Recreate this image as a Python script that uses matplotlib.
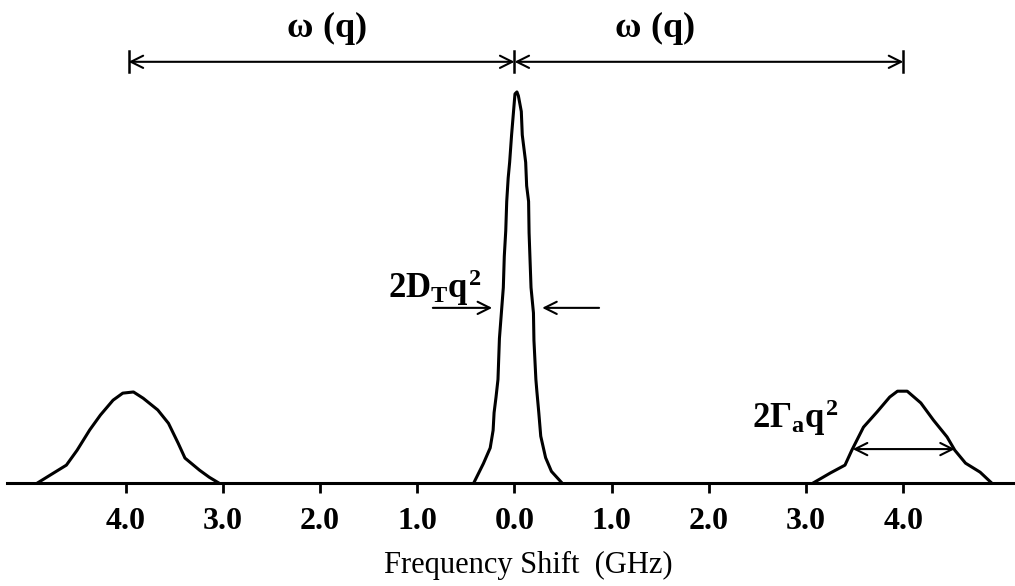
"""
Brillouin spectrum sketch: Rayleigh line with two Brillouin side peaks
"""
import matplotlib.pyplot as plt

plt.rcParams['font.family'] = ['Liberation Serif', 'DejaVu Serif']
plt.rcParams['mathtext.fontset'] = 'custom'
plt.rcParams['mathtext.rm'] = 'Liberation Serif:bold'
plt.rcParams['mathtext.it'] = 'Liberation Serif:bold'
plt.rcParams['mathtext.bf'] = 'Liberation Serif:bold'

INK = 'black'

# traced line shapes (GHz, intensity relative to the central peak)
central_x = [-0.42, -0.32, -0.25, -0.22, -0.21, -0.19, -0.17, -0.155, -0.135, -0.115,
             -0.105, -0.09, -0.08, -0.065, -0.05, -0.03, -0.01, 0.005, 0.025, 0.04,
             0.07, 0.08, 0.115, 0.125, 0.145, 0.15, 0.17, 0.195, 0.2, 0.22,
             0.23, 0.25, 0.27, 0.32, 0.38, 0.49]
central_y = [0.0, 0.05, 0.09, 0.135, 0.18, 0.22, 0.265, 0.37, 0.435, 0.5,
             0.58, 0.645, 0.72, 0.78, 0.82, 0.89, 0.95, 0.995, 1.0, 0.99,
             0.95, 0.89, 0.82, 0.76, 0.72, 0.64, 0.5, 0.435, 0.365, 0.265,
             0.235, 0.18, 0.12, 0.065, 0.03, 0.0]

left_x = [-4.91, -4.78, -4.61, -4.50, -4.37, -4.26, -4.13, -4.03, -3.92, -3.82,
          -3.67, -3.56, -3.46, -3.39, -3.24, -3.14, -3.04]
left_y = [0.0, 0.02, 0.046, 0.084, 0.136, 0.174, 0.212, 0.23, 0.233, 0.217,
          0.187, 0.153, 0.102, 0.064, 0.033, 0.015, 0.0]

right_x = [3.07, 3.25, 3.40, 3.47, 3.59, 3.73, 3.86, 3.94, 4.04, 4.18,
           4.31, 4.45, 4.53, 4.64, 4.79, 4.91]
right_y = [0.0, 0.026, 0.046, 0.084, 0.143, 0.182, 0.22, 0.235, 0.235, 0.205,
           0.161, 0.118, 0.084, 0.051, 0.028, 0.0]

tick_pos = [-4.0, -3.0, -2.0, -1.0, 0.0, 1.0, 2.0, 3.0, 4.0]
tick_labels = ['4.0', '3.0', '2.0', '1.0', '0.0', '1.0', '2.0', '3.0', '4.0']

# annotation anchors
omega_marks = [-3.97, 0.0, 4.0]
omega_level = 1.077
dt_left = (-0.84, -0.23)
dt_right = (0.87, 0.285)
dt_level = 0.448
gamma_span = (3.48, 4.53)
gamma_level = 0.087

fig = plt.figure(figsize=(10.15, 5.86), dpi=100)
ax = fig.add_axes([0, 0, 1, 1])
ax.set_xlim(-5.293, 5.149)
ax.set_ylim(-0.263, 1.235)

for xs, ys in [(left_x, left_y), (central_x, central_y), (right_x, right_y)]:
    ax.plot(xs, ys, color=INK, lw=2.2, solid_joinstyle='round', solid_capstyle='round')

for s in ['left', 'right', 'top']:
    ax.spines[s].set_visible(False)
ax.spines['bottom'].set_position(('data', 0))
ax.spines['bottom'].set_bounds(-5.22, 5.149)
ax.spines['bottom'].set_linewidth(2.2)
ax.set_yticks([])
ax.set_xticks(tick_pos)
ax.set_xticklabels(tick_labels, fontsize=23, fontweight='bold')
ax.tick_params(axis='x', direction='out', length=7, width=2, pad=10, colors=INK)

ax.text(0.14, -0.21, 'Frequency Shift  (GHz)', fontsize=22, ha='center', va='center')

# omega(q) spans
arrow_kw = dict(arrowstyle='<->', lw=1.5, color=INK, shrinkA=0, shrinkB=0, mutation_scale=22)
for a, b in [(omega_marks[0], omega_marks[1]), (omega_marks[1], omega_marks[2])]:
    ax.annotate('', xy=(a, omega_level), xytext=(b, omega_level), arrowprops=arrow_kw)
for xm in omega_marks:
    ax.plot([xm, xm], [omega_level - 0.027, omega_level + 0.027], color=INK, lw=1.8)
ax.text(-1.93, 1.163, r'$\omega\ (q)$', fontsize=26, ha='center', va='center')
ax.text(1.445, 1.163, r'$\omega\ (q)$', fontsize=26, ha='center', va='center')

# Rayleigh width arrows
one_kw = dict(arrowstyle='->', lw=1.5, color=INK, shrinkA=0, shrinkB=0, mutation_scale=22)
ax.annotate('', xy=(dt_left[1], dt_level), xytext=(dt_left[0], dt_level), arrowprops=one_kw)
ax.annotate('', xy=(dt_right[1], dt_level), xytext=(dt_right[0], dt_level), arrowprops=one_kw)
ax.text(-1.30, 0.473, r'$2D_{T}q^{2}$', fontsize=25, ha='left', va='baseline')

# Brillouin width arrow
ax.annotate('', xy=(gamma_span[0], gamma_level), xytext=(gamma_span[1], gamma_level),
            arrowprops=arrow_kw)
ax.text(2.44, 0.14, r'$2\Gamma_{a}q^{2}$', fontsize=25, ha='left', va='baseline')

plt.savefig('out.png', dpi=100, facecolor='white')
plt.close()
